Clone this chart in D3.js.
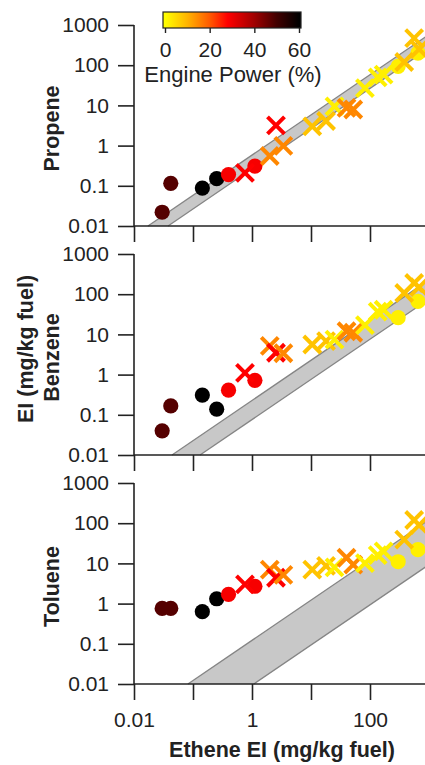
<!DOCTYPE html>
<html>
<head>
<meta charset="utf-8">
<script src="https://cdn.jsdelivr.net/npm/d3@7"></script>
<style>
  body { margin: 0; background: #fff; }
  svg { display: block; font-family: Arial, "Liberation Sans", sans-serif; }
  .tick-label { font-size: 21px; fill: #222; }
  .title { font-size: 21.5px; font-weight: bold; fill: #222; }
</style>
</head>
<body>
<svg id="chart" width="425" height="765"></svg>
<script>
  const width = 425, height = 765;
  const svg = d3.select("#chart");

  // samples: ethene EI, engine power, marker type
  const ethene = [0.030, 0.042, 0.144, 0.252, 0.40, 1.12, 300, 650,
                  0.76, 2.0, 2.55, 3.4, 10.5, 18, 25, 40, 52, 82, 135, 170, 380, 560, 680];
  const power  = [48, 48, 60, 60, 29, 29, 2, 2,
                  28, 15, 28, 15, 8, 8, 2, 15, 15, 2, 2, 2, 8, 8, 8];
  const marker = ["o", "o", "o", "o", "o", "o", "o", "o",
                  "x", "x", "x", "x", "x", "x", "x", "x", "x", "x", "x", "x", "x", "x", "x"];

  const propene = [0.022, 0.115, 0.088, 0.15, 0.19, 0.31, 93, 200,
                   0.21, 0.55, 3.2, 0.98, 3.0, 4.1, 9.5, 8.7, 7.9, 27, 50, 58, 120, 470, 250];
  const benzene = [0.040, 0.166, 0.31, 0.138, 0.41, 0.72, 26, 66,
                   1.1, 5.2, 3.5, 3.4, 5.6, 6.8, 7.4, 12, 11, 17, 37, 41, 107, 190, 150];
  const toluene = [0.76, 0.76, 0.63, 1.32, 1.7, 2.7, 11, 22,
                   3.0, 7.0, 4.4, 5.2, 7.0, 8.7, 8.0, 13.8, 9.3, 10.2, 16, 20, 39, 120, 90];

  const species = ["Propene", "Benzene", "Toluene"];
  const speciesValues = [propene, benzene, toluene];
  // ratio range of the grey band (species / ethene)
  const bandUpper = [0.58, 0.227, 0.122];
  const bandLower = [0.265, 0.076, 0.0093];

  const yTicks = [0.01, 0.1, 1, 10, 100, 1000];
  const xTicks = [0.01, 0.1, 1, 10, 100, 1000];
  const xTickLabels = ["0.01", "", "1", "", "100", ""];
  const powerTicks = [0, 20, 40, 60];

  const color = d3.scaleLinear()
    .domain([0, 10, 20, 28, 40, 50, 60])
    .range(["#ffff00", "#ffb400", "#ff5a00", "#ff0000", "#a00000", "#420000", "#000000"]);

  const x = d3.scaleLog().domain([0.01, 1000]).range([134, 429]);
  const panelTops = [25, 254, 483];
  const panelH = 201;

  const fmt = d => String(d);

  speciesValues.forEach((vals, i) => {
    const y = d3.scaleLog().domain([0.01, 1000]).range([panelTops[i] + panelH, panelTops[i]]);
    const g = svg.append("g");

    // grey band
    const xMax = x.domain()[1];
    const band = [
      [0.01 / bandUpper[i], 0.01],
      [xMax, bandUpper[i] * xMax],
      [xMax, bandLower[i] * xMax],
      [0.01 / bandLower[i], 0.01]
    ];
    g.append("path")
      .attr("d", d3.line().x(d => x(d[0])).y(d => y(d[1]))(band) + "Z")
      .attr("fill", "#c8c8c8");
    [[band[0], band[1]], [band[3], band[2]]].forEach(seg => {
      g.append("path")
        .attr("d", d3.line().x(d => x(d[0])).y(d => y(d[1]))(seg))
        .attr("stroke", "#858585")
        .attr("stroke-width", 1.3)
        .attr("fill", "none");
    });

    // axes
    const yAxis = g.append("g")
      .attr("transform", `translate(${x(0.01)},0)`)
      .call(d3.axisLeft(y).tickValues(yTicks).tickFormat(fmt).tickSize(16).tickPadding(9));
    const xAxis = g.append("g")
      .attr("transform", `translate(0,${y(0.01)})`)
      .call(d3.axisBottom(x).tickValues(xTicks)
        .tickFormat((d, k) => i === 2 ? xTickLabels[k] : "")
        .tickSize(16).tickPadding(12));
    [yAxis, xAxis].forEach(a => {
      a.select(".domain").attr("stroke", "#222").attr("stroke-width", 1.6);
      a.selectAll(".tick line").attr("stroke", "#222").attr("stroke-width", 1.6);
      a.selectAll(".tick text").attr("class", "tick-label").attr("font-size", null).attr("font-family", null);
    });
    yAxis.select(".domain").attr("d", `M0,${y(1000)}V${y(0.01)}`);
    xAxis.select(".domain").attr("d", `M${x(0.01)},0H${width + 10}`);

    // markers
    const idx = d3.range(ethene.length);
    g.selectAll("circle.pt")
      .data(idx.filter(k => marker[k] === "o"))
      .join("circle")
      .attr("class", "pt")
      .attr("cx", k => x(ethene[k]))
      .attr("cy", k => y(vals[k]))
      .attr("r", 7.6)
      .attr("fill", k => color(power[k]));

    const s = 8.5;
    g.selectAll("path.cross")
      .data(idx.filter(k => marker[k] === "x"))
      .join("path")
      .attr("class", "cross")
      .attr("d", k => {
        const cx = x(ethene[k]), cy = y(vals[k]);
        return `M${cx - s},${cy - s}L${cx + s},${cy + s}M${cx - s},${cy + s}L${cx + s},${cy - s}`;
      })
      .attr("stroke", k => color(power[k]))
      .attr("stroke-width", 4)
      .attr("fill", "none");

    // species label
    g.append("text")
      .attr("class", "title")
      .attr("transform", `translate(59,${panelTops[i] + panelH / 2 + 3}) rotate(-90)`)
      .attr("text-anchor", "middle")
      .text(species[i]);
  });

  // shared y title
  svg.append("text")
    .attr("class", "title")
    .attr("transform", `translate(33,349) rotate(-90)`)
    .attr("text-anchor", "middle")
    .text("EI (mg/kg fuel)");

  // x title
  svg.append("text")
    .attr("class", "title")
    .attr("x", 282)
    .attr("y", 757)
    .attr("text-anchor", "middle")
    .text("Ethene EI (mg/kg fuel)");

  // colour bar
  const cb = d3.scaleLinear().domain([0, 60]).range([165, 299]);
  const defs = svg.append("defs");
  const grad = defs.append("linearGradient").attr("id", "powerGrad");
  d3.range(0, 61, 2).forEach(p => {
    grad.append("stop")
      .attr("offset", `${(cb(p) - 163) / (301 - 163) * 100}%`)
      .attr("stop-color", color(p));
  });
  svg.append("rect")
    .attr("x", 163).attr("y", 12).attr("width", 138).attr("height", 16)
    .attr("fill", "url(#powerGrad)")
    .attr("stroke", "#222").attr("stroke-width", 1.2);
  const cbAxis = svg.append("g")
    .attr("transform", "translate(0,28)")
    .call(d3.axisBottom(cb).tickValues(powerTicks).tickSize(5).tickPadding(9));
  cbAxis.select(".domain").remove();
  cbAxis.selectAll(".tick line").attr("stroke", "#222").attr("stroke-width", 1.4);
  cbAxis.selectAll(".tick text").attr("class", "tick-label").attr("font-size", null).attr("font-family", null);
  svg.append("text")
    .attr("class", "tick-label")
    .attr("x", 233).attr("y", 82)
    .attr("text-anchor", "middle")
    .style("font-size", "22px")
    .text("Engine Power (%)");
</script>
</body>
</html>
